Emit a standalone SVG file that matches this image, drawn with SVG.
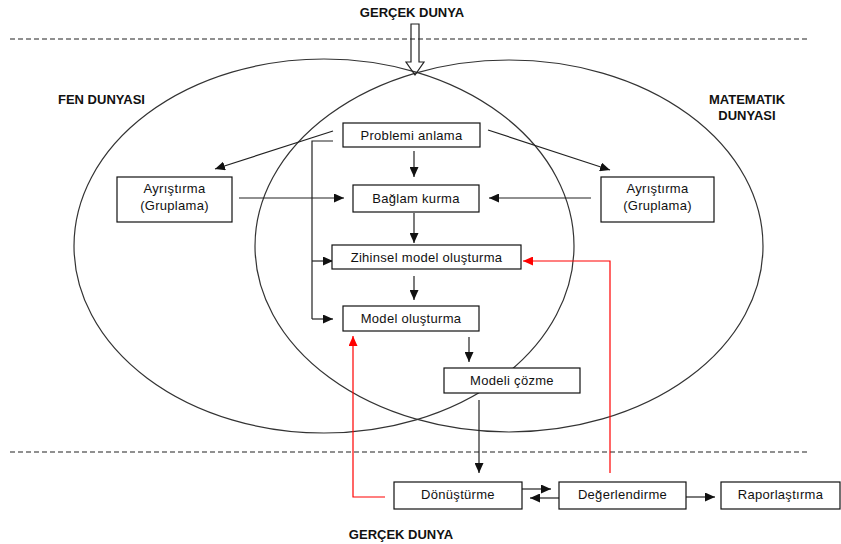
<svg xmlns="http://www.w3.org/2000/svg" width="841" height="544" viewBox="0 0 841 544">
<defs>
<style>
.bg{fill:#fff}
.world{fill:none;stroke:#333;stroke-width:1.2}
.dash{fill:none;stroke:#222;stroke-width:1.2;stroke-dasharray:5 3}
.box{fill:#fff;stroke:#111;stroke-width:1.2}
.t{font-family:"Liberation Sans",Arial,sans-serif;font-size:13px;letter-spacing:0.3px;fill:#111;text-anchor:middle}
.h{font-family:"Liberation Sans",Arial,sans-serif;font-size:13px;font-weight:bold;fill:#111}
.c{fill:none;stroke:#222;stroke-width:1.2}
.r{fill:none;stroke:#f00;stroke-width:1.2}
</style>
<marker id="ah" markerUnits="userSpaceOnUse" markerWidth="11" markerHeight="9" refX="10" refY="4.5" orient="auto">
<path d="M0,0 L10,4.5 L0,9 z" fill="#111"/>
</marker>
<marker id="ahr" markerUnits="userSpaceOnUse" markerWidth="11" markerHeight="9" refX="10" refY="4.5" orient="auto">
<path d="M0,0 L10,4.5 L0,9 z" fill="#f00"/>
</marker>
</defs>
<rect class="bg" x="0" y="0" width="841" height="544"/>

<g id="worlds">
<line class="dash" x1="10" y1="39" x2="808" y2="39"/>
<line class="dash" x1="10" y1="452" x2="808" y2="452"/>
<ellipse id="fen" class="world" cx="324" cy="246" rx="250" ry="187"/>
<ellipse id="matematik" class="world" cx="509" cy="246" rx="254" ry="186"/>
<text class="h" x="412" y="17" text-anchor="middle">GERÇEK DUNYA</text>
<polygon points="411,24 419,24 419,62 424,62 415,75 406,62 411,62" fill="none" stroke="#222" stroke-width="1.2"/>
<text class="h" x="58" y="104">FEN DUNYASI</text>
<text class="h" x="747" y="104" text-anchor="middle">MATEMATIK</text>
<text class="h" x="747" y="120" text-anchor="middle">DUNYASI</text>
<text class="h" x="401" y="539" text-anchor="middle">GERÇEK DUNYA</text>
</g>

<g id="connectors">
<line class="c" x1="414" y1="151" x2="414" y2="177" marker-end="url(#ah)"/>
<line class="c" x1="414" y1="213" x2="414" y2="243" marker-end="url(#ah)"/>
<line class="c" x1="414" y1="276" x2="414" y2="300" marker-end="url(#ah)"/>
<line class="c" x1="469" y1="337" x2="469" y2="362" marker-end="url(#ah)"/>
<line class="c" x1="333" y1="131" x2="215" y2="169" marker-end="url(#ah)"/>
<line class="c" x1="488" y1="130" x2="610" y2="170" marker-end="url(#ah)"/>
<line class="c" x1="239" y1="198" x2="344" y2="198" marker-end="url(#ah)"/>
<line class="c" x1="591" y1="198" x2="489" y2="198" marker-end="url(#ah)"/>
<polyline class="c" points="333,141 312,141 312,319"/>
<line class="c" x1="312" y1="261" x2="333" y2="261" marker-end="url(#ah)"/>
<line class="c" x1="312" y1="319" x2="333" y2="319" marker-end="url(#ah)"/>
<line class="c" x1="479" y1="400" x2="479" y2="473" marker-end="url(#ah)"/>
<line class="c" x1="522" y1="489" x2="551" y2="489" marker-end="url(#ah)"/>
<line class="c" x1="559" y1="498" x2="530" y2="498" marker-end="url(#ah)"/>
<line class="c" x1="686" y1="497" x2="715" y2="497" marker-end="url(#ah)"/>
<polyline class="r" points="610,473 610,261 523,261" marker-end="url(#ahr)"/>
<polyline class="r" points="385,497 353,497 353,336" marker-end="url(#ahr)"/>
</g>

<g id="problemi-anlama">
<rect class="box" x="343" y="123" width="137" height="24"/>
<text class="t" x="411.5" y="139.5">Problemi anlama</text>
</g>
<g id="baglam-kurma">
<rect class="box" x="353" y="185" width="126" height="27"/>
<text class="t" x="416" y="203">Bağlam kurma</text>
</g>
<g id="ayristirma-sol">
<rect class="box" x="117" y="177" width="115" height="45"/>
<text class="t" x="174.5" y="193">Ayrıştırma</text>
<text class="t" x="174.5" y="210">(Gruplama)</text>
</g>
<g id="ayristirma-sag">
<rect class="box" x="601" y="177" width="113" height="45"/>
<text class="t" x="657.5" y="193">Ayrıştırma</text>
<text class="t" x="657.5" y="210">(Gruplama)</text>
</g>
<g id="zihinsel-model">
<rect class="box" x="332" y="245" width="189" height="24"/>
<text class="t" x="426.5" y="261.5">Zihinsel model oluşturma</text>
</g>
<g id="model-olusturma">
<rect class="box" x="343" y="306" width="136" height="25"/>
<text class="t" x="411" y="323">Model oluşturma</text>
</g>
<g id="modeli-cozme">
<rect class="box" x="444" y="368" width="136" height="25"/>
<text class="t" x="512" y="385">Modeli çözme</text>
</g>
<g id="donusturme">
<rect class="box" x="394" y="482" width="128" height="27"/>
<text class="t" x="458" y="499">Dönüştürme</text>
</g>
<g id="degerlendirme">
<rect class="box" x="559" y="482" width="127" height="27"/>
<text class="t" x="622.5" y="499">Değerlendirme</text>
</g>
<g id="raporlastirma">
<rect class="box" x="721" y="482" width="119" height="27"/>
<text class="t" x="780.5" y="499">Raporlaştırma</text>
</g>
</svg>
